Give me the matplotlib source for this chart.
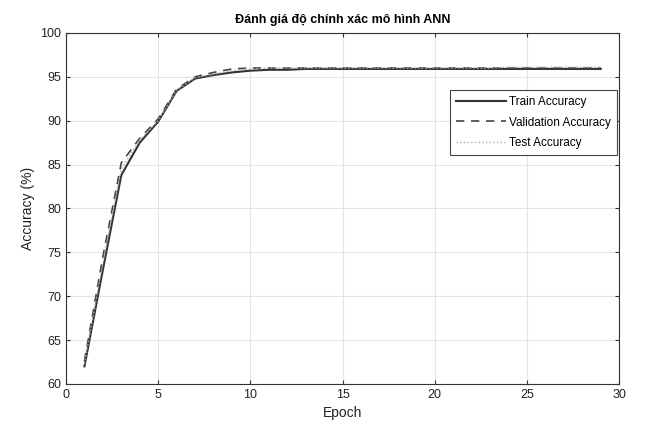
import matplotlib
matplotlib.use('Agg')
import matplotlib.pyplot as plt
import numpy as np

plt.rcParams.update({"font.family": ["Liberation Sans", "DejaVu Sans"], "font.size": 9})

epochs = np.arange(1, 30)
train_acc = [62.0, 73.0, 83.8, 87.5, 89.9, 93.4, 94.8, 95.2, 95.5, 95.7,
             95.8, 95.8, 95.9, 95.9, 95.9, 95.9, 95.9, 95.9, 95.9, 95.9,
             95.9, 95.9, 95.9, 95.9, 95.9, 95.9, 95.9, 95.9, 95.9]
val_acc = [62.6, 74.5, 85.2, 88.0, 90.2, 93.6, 95.0, 95.5, 95.9, 96.0,
           96.0, 96.0, 96.0, 96.0, 96.0, 96.0, 96.0, 96.0, 96.0, 96.0,
           96.0, 96.0, 96.0, 96.0, 96.0, 96.0, 96.0, 96.0, 96.0]
test_acc = [62.3, 73.8, 84.5, 87.8, 90.0, 93.5, 94.9, 95.3, 95.7, 95.9,
            96.0, 96.0, 96.0, 96.0, 96.0, 96.0, 96.0, 96.0, 96.0, 96.0,
            96.0, 96.0, 96.0, 96.1, 96.1, 96.1, 96.1, 96.1, 96.1]

fig = plt.figure(figsize=(6.47, 4.28), dpi=100)
ax = fig.add_axes([0.102, 0.103, 0.855, 0.82])

ax.plot(epochs, train_acc, '-', color='#333333', lw=1.5, label='Train Accuracy')
ax.plot(epochs, val_acc, '--', color='#444444', lw=1.2, dashes=(5, 4), label='Validation Accuracy')
ax.plot(epochs, test_acc, ':', color='#aaaaaa', lw=1.0, label='Test Accuracy')

ax.set_xlim(0, 30)
ax.set_ylim(60, 100)
ax.set_xticks(range(0, 31, 5))
ax.set_yticks(range(60, 101, 5))
ax.grid(True, color='#e4e4e4', lw=0.8)
ax.tick_params(direction='in', top=True, right=True, length=3, colors='#333333', labelcolor='#222222')
for s in ax.spines.values():
    s.set_color('#333333')
    s.set_linewidth(0.8)

ax.set_xlabel('Epoch', fontsize=10, color='#222222')
ax.set_ylabel('Accuracy (%)', fontsize=10, color='#222222')
ax.set_title('Đánh giá độ chính xác mô hình ANN', fontsize=9, fontweight='bold', pad=7)

leg = ax.legend(loc='upper right', bbox_to_anchor=(0.996, 0.838), fontsize=8.5, fancybox=False,
                edgecolor='#444444', framealpha=1, handlelength=4.2, borderpad=0.5,
                labelspacing=0.75, handletextpad=0.3, borderaxespad=0)
leg.get_frame().set_linewidth(0.8)

fig.savefig('out.png', dpi=100)
